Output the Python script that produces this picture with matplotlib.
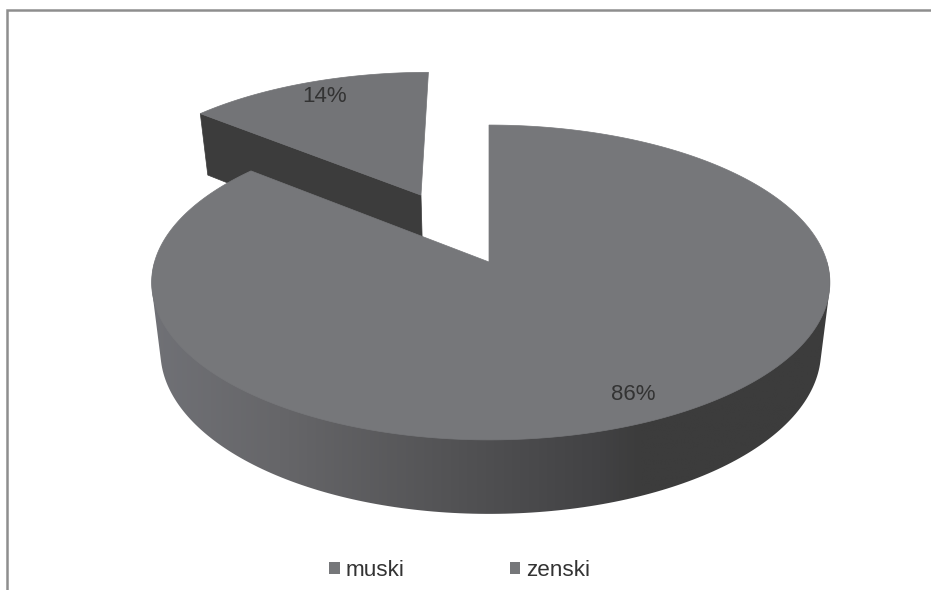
import numpy as np
import matplotlib
matplotlib.use("Agg")
import matplotlib.pyplot as plt
from matplotlib.patches import Polygon, Patch
from matplotlib.colors import LinearSegmentedColormap

categories = ["muski", "zenski"]
shares = [86, 14]

plt.rcParams['font.family'] = ['Liberation Sans', 'DejaVu Sans']

W, H = 931, 590
fig = plt.figure(figsize=(W / 100, H / 100), dpi=100, facecolor="white")
ax = fig.add_axes([0, 0, 1, 1])
ax.set_axis_off()

TOP = "#76777a"
DARK = "#3c3c3c"
TEXT = "#333333"
BORDER = "#8e8e8e"

# perspective of the pie disc
CX, APEX_Y = 489.0, 262.0
R_LEFT, R_RIGHT = 334.5, 338.0
PA, PC = -120.7, 0.130
BOTTOM_SCALE = 0.974
DEPTH0, DEPTH_SLOPE = 68.0, 6.0
EXPLODE = 0.506


def top_xy(u, v):
    u, v = np.asarray(u, float), np.asarray(v, float)
    d = 1 + PC * v
    return CX + np.where(u < 0, R_LEFT, R_RIGHT) * u / d, (PA * v + APEX_Y) / d


def bottom_xy(u, v):
    x, y = top_xy(u, v)
    return CX + (x - CX) * BOTTOM_SCALE, y + DEPTH0 - DEPTH_SLOPE * np.asarray(v, float)


def rim(t0, t1, n=240):
    t = np.radians(np.linspace(t0, t1, n))
    return np.sin(t), np.cos(t)


def stack(*parts):
    return np.column_stack([np.concatenate([np.atleast_1d(p[0]) for p in parts]),
                            np.concatenate([np.atleast_1d(p[1]) for p in parts])])


def hull(points):
    pts = sorted(map(tuple, points))

    def half(seq):
        out = []
        for p in seq:
            while len(out) >= 2 and ((out[-1][0] - out[-2][0]) * (p[1] - out[-2][1])
                                     - (out[-1][1] - out[-2][1]) * (p[0] - out[-2][0])) <= 0:
                out.pop()
            out.append(p)
        return out[:-1]

    return np.array(half(pts) + half(pts[::-1]))


main_deg = 360 * shares[0] / sum(shares)
mid = np.radians((main_deg + 360) / 2)
du, dv = EXPLODE * np.sin(mid), EXPLODE * np.cos(mid)

# exploded slice: cut face, then top face
cu, cv = np.sin(np.radians(main_deg)) + du, np.cos(np.radians(main_deg)) + dv
face = stack(top_xy(du, dv), top_xy(cu, cv), bottom_xy(cu, cv), bottom_xy(du, dv))
ax.add_patch(Polygon(face, closed=True, fc=DARK, ec=DARK, lw=0.5, zorder=1))
u, v = rim(main_deg, 360)
wedge = stack(top_xy(du, dv), top_xy(u + du, v + dv))
ax.add_patch(Polygon(wedge, closed=True, fc="#737477", ec="#737477", lw=0.5, zorder=2))

# main slice: side wall with horizontal gradient
u, v = rim(60, 300)
side = hull(np.vstack([stack(top_xy(u, v)), stack(bottom_xy(u, v))]))
cmap = LinearSegmentedColormap.from_list(
    "wall",
    [(0.0, "#707176"), (0.19, "#666669"), (0.44, "#535355"),
     (0.66, "#424244"), (0.72, "#3c3c3c"), (1.0, "#3c3c3c")])
grad = np.linspace(0, 1, 512)[None, :]
# the wall image starts at the apex height, so nothing shows through the gap
im = ax.imshow(grad, cmap=cmap, extent=(150, 832, 530, APEX_Y), aspect="auto", zorder=3,
               interpolation="bilinear")
clip = Polygon(side, closed=True, transform=ax.transData)
im.set_clip_path(clip)

# main slice: top face
u, v = rim(0, main_deg, 600)
main = stack(top_xy(0.0, 0.0), top_xy(u, v))
ax.add_patch(Polygon(main, closed=True, fc=TOP, ec=TOP, lw=0.5, zorder=4))

# frame (left and top only)
ax.plot([7, 7, W], [H, 10, 10], color=BORDER, lw=1.8, zorder=5, solid_joinstyle="miter")

# value labels
ax.text(633.5, 394, f"{shares[0]}%", fontsize=16, color=TEXT, ha="center", va="center", zorder=6)
ax.text(325, 97, f"{shares[1]}%", fontsize=16, color=TEXT, ha="center", va="center", zorder=6)

# legend
handles = [Patch(fc=TOP, ec="none", label=c) for c in categories]
ax.legend(handles=handles, ncol=2, frameon=False, loc="center",
          bbox_to_anchor=(459.5 / W, 1 - 570.5 / H), bbox_transform=ax.transAxes,
          fontsize=16.2, labelcolor=TEXT, handlelength=0.47, handleheight=0.47,
          handletextpad=0.25, columnspacing=4.7, borderpad=0, borderaxespad=0)

ax.set_xlim(0, W)
ax.set_ylim(H, 0)
fig.savefig("out.png", dpi=100, facecolor="white")
